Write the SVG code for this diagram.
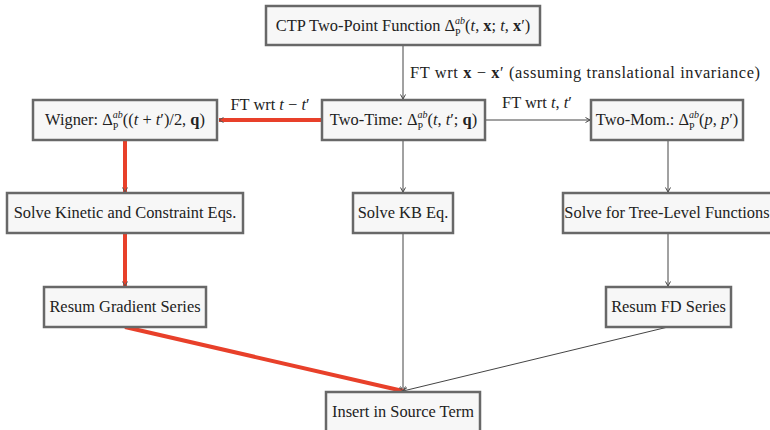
<svg xmlns="http://www.w3.org/2000/svg" width="770" height="430" viewBox="0 0 770 430">
<style>
  .box{fill:#f7f7f7;stroke:#686868;stroke-width:2.5}
  .t{font-family:"Liberation Serif","DejaVu Serif",serif;font-size:16.4px;fill:#222;text-anchor:middle}
  .l{font-family:"Liberation Serif","DejaVu Serif",serif;font-size:16.4px;fill:#222}
  .i{font-style:italic}
  .b{font-weight:bold}
  .s{font-size:10px}
  .g{stroke:#444;stroke-width:1;fill:none}
  .r{stroke:#e8402a;stroke-width:4;fill:none}
</style>
<defs>
  <marker id="ag" markerUnits="userSpaceOnUse" markerWidth="10" markerHeight="10" refX="5" refY="3" orient="auto">
    <path d="M0.5,0.5 L5,3 L0.5,5.5" fill="none" stroke="#444" stroke-width="1"/>
  </marker>
  <marker id="ar" markerUnits="userSpaceOnUse" markerWidth="10" markerHeight="10" refX="5" refY="3" orient="auto">
    <path d="M0.5,0.5 L5,3 L0.5,5.5" fill="none" stroke="#555" stroke-width="1"/>
  </marker>
</defs>
<g id="connectors">
  <line class="g" x1="403" y1="45" x2="403" y2="99" marker-end="url(#ag)"/>
  <line class="r" x1="322" y1="120" x2="219" y2="120" marker-end="url(#ar)"/>
  <line class="g" x1="485" y1="120" x2="590" y2="120" marker-end="url(#ag)"/>
  <line class="r" x1="125" y1="140" x2="125" y2="192" marker-end="url(#ar)"/>
  <line class="g" x1="403" y1="140" x2="403" y2="192" marker-end="url(#ag)"/>
  <line class="g" x1="668" y1="140" x2="668" y2="192" marker-end="url(#ag)"/>
  <line class="r" x1="125" y1="233" x2="125" y2="286" marker-end="url(#ar)"/>
  <line class="g" x1="668" y1="233" x2="668" y2="286" marker-end="url(#ag)"/>
  <line class="g" x1="403" y1="233" x2="403" y2="391" marker-end="url(#ag)"/>
  <line class="r" x1="125" y1="327" x2="403" y2="391" marker-end="url(#ar)"/>
  <line class="g" x1="668" y1="327" x2="403" y2="391" marker-end="url(#ag)"/>
  <text class="l" x="410" y="78" textLength="350" lengthAdjust="spacing">FT wrt <tspan class="b">x</tspan> − <tspan class="b">x</tspan>′ (assuming translational invariance)</text>
  <text class="t" x="270" y="110">FT wrt <tspan class="i">t</tspan> − <tspan class="i">t</tspan>′</text>
  <text class="t" x="537" y="108">FT wrt <tspan class="i">t</tspan>, <tspan class="i">t</tspan>′</text>
</g>
<g id="ctp">
  <rect class="box" x="266" y="6" width="274" height="39"/>
  <text class="t" x="403" y="31">CTP Two-Point Function Δ<tspan class="s i" dy="-7.5">ab</tspan><tspan class="s" dx="-10" dy="12">P</tspan><tspan dx="4.5" dy="-4.5">(</tspan><tspan class="i">t</tspan>, <tspan class="b">x</tspan>; <tspan class="i">t</tspan>, <tspan class="b">x</tspan>′)</text>
</g>
<g id="wigner">
  <rect class="box" x="33" y="100" width="184" height="40"/>
  <text class="t" x="125" y="125">Wigner: Δ<tspan class="s i" dy="-7.5">ab</tspan><tspan class="s" dx="-10" dy="12">P</tspan><tspan dx="4.5" dy="-4.5">((</tspan><tspan class="i">t</tspan> + <tspan class="i">t</tspan>′)/2, <tspan class="b">q</tspan>)</text>
</g>
<g id="twotime">
  <rect class="box" x="322" y="100" width="163" height="40"/>
  <text class="t" x="403.5" y="125">Two-Time: Δ<tspan class="s i" dy="-7.5">ab</tspan><tspan class="s" dx="-10" dy="12">P</tspan><tspan dx="4.5" dy="-4.5">(</tspan><tspan class="i">t</tspan>, <tspan class="i">t</tspan>′; <tspan class="b">q</tspan>)</text>
</g>
<g id="twomom">
  <rect class="box" x="591" y="100" width="152" height="40"/>
  <text class="t" x="667" y="125">Two-Mom.: Δ<tspan class="s i" dy="-7.5">ab</tspan><tspan class="s" dx="-10" dy="12">P</tspan><tspan dx="4.5" dy="-4.5">(</tspan><tspan class="i">p</tspan>, <tspan class="i">p</tspan>′)</text>
</g>
<g id="kinetic">
  <rect class="box" x="7" y="193" width="236" height="40"/>
  <text class="t" x="125" y="218">Solve Kinetic and Constraint Eqs.</text>
</g>
<g id="kb">
  <rect class="box" x="353" y="193" width="100" height="40"/>
  <text class="t" x="403" y="218">Solve KB Eq.</text>
</g>
<g id="tree">
  <rect class="box" x="563" y="193" width="210" height="40"/>
  <text class="t" x="667" y="218">Solve for Tree-Level Functions</text>
</g>
<g id="gradient">
  <rect class="box" x="44" y="287" width="162" height="40"/>
  <text class="t" x="125" y="312">Resum Gradient Series</text>
</g>
<g id="fd">
  <rect class="box" x="606" y="287" width="125" height="40"/>
  <text class="t" x="668.5" y="312">Resum FD Series</text>
</g>
<g id="insert">
  <rect class="box" x="326" y="392" width="154" height="42"/>
  <text class="t" x="403" y="417">Insert in Source Term</text>
</g>
</svg>
